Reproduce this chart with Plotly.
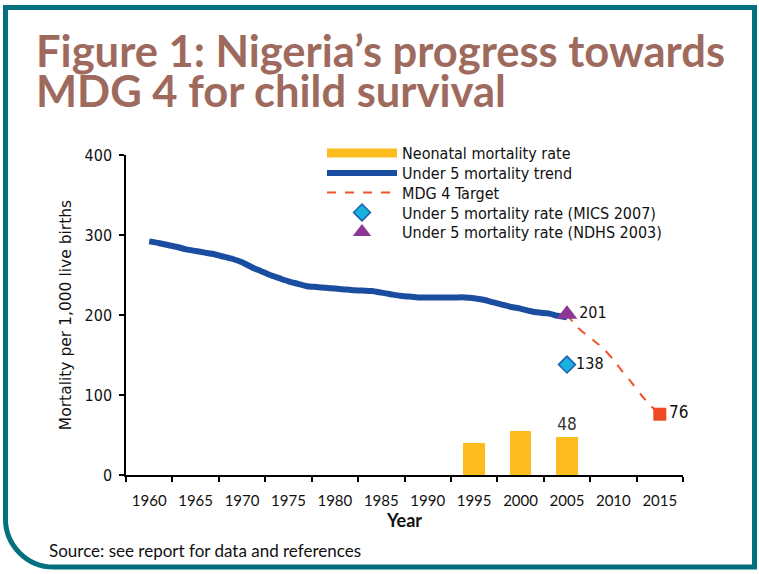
import plotly.graph_objects as go

# ---------------- data ----------------
trend_years = list(range(1960, 2006))
u5_trend = [292, 290, 287.5, 285, 282, 280, 278, 276, 273, 270,
            266, 260, 255, 250, 246, 242, 239, 236, 235, 234,
            233, 232, 231, 230.5, 230, 228, 226, 224, 223, 222,
            222, 222, 222, 222, 222, 221, 219, 216, 213, 210,
            208, 205, 203, 202, 199, 197]
target_years = list(range(2005, 2016))
mdg_target = [201, 186, 176, 167, 157, 144, 129, 115, 100, 87, 76]
neo_years = [1995, 2000, 2005]
neo_rate = [40, 55, 48]
neo_labels = ["", "", "48"]
mics_year = [2005]
mics_rate = [138]
ndhs_year = [2005]
ndhs_rate = [201]
goal_year = [2015]
goal_rate = [76]
tick_years = list(range(1960, 2020, 5))
tick_labels = [str(y) for y in tick_years]

# ---------------- layout geometry ----------------
W, H = 759, 574
L, R, T, B = 126, 76, 155, 99
PW = W - L - R
PH = H - T - B

def px(x):
    return (x - L) / PW

def py(y):
    return (H - B - y) / PH

LEG_FONT = "DejaVu Sans Condensed, DejaVu Sans, sans-serif"
VERD = "DejaVu Sans, sans-serif"
GILL = "Lato, sans-serif"
TEAL = "#03707e"

fig = go.Figure()

fig.add_trace(go.Bar(
    x=neo_years, y=neo_rate, width=2.3,
    marker=dict(color="#fcbb1f", line=dict(width=0)),
    text=neo_labels, textposition="outside", cliponaxis=False,
    textfont=dict(family=LEG_FONT, size=17, color="#333"),
    showlegend=False, name="Neonatal mortality rate"))

fig.add_trace(go.Scatter(
    x=[None], y=[None], mode="lines", name="Neonatal mortality rate",
    line=dict(color="#fcbb1f", width=9), legend="legend"))

fig.add_trace(go.Scatter(
    x=trend_years, y=u5_trend, mode="lines", name="Under 5 mortality trend",
    line=dict(color="#1a4d9f", width=6, shape="spline", smoothing=0.6),
    legend="legend2"))

fig.add_trace(go.Scatter(
    x=target_years, y=mdg_target, mode="lines", name="MDG 4 Target",
    line=dict(color="#f0532a", width=2, dash="dash", shape="spline", smoothing=0.8),
    legend="legend3"))

fig.add_trace(go.Scatter(
    x=goal_year, y=goal_rate, mode="markers+text", text=[str(v) for v in goal_rate],
    textposition="middle right", cliponaxis=False,
    textfont=dict(family=LEG_FONT, size=17, color="#111"),
    marker=dict(symbol="square", size=13, color="#f04a24"),
    showlegend=False, name="goal"))

fig.add_trace(go.Scatter(
    x=mics_year, y=mics_rate, mode="markers+text", text=[str(v) for v in mics_rate],
    textposition="middle right", cliponaxis=False,
    textfont=dict(family=LEG_FONT, size=16, color="#111"),
    marker=dict(symbol="diamond", size=13, color="#19b2df",
                line=dict(color="#1f5fae", width=1.5)),
    name="Under 5 mortality rate (MICS 2007)", legend="legend4"))

fig.add_trace(go.Scatter(
    x=ndhs_year, y=ndhs_rate, mode="markers+text", text=[str(v) for v in ndhs_rate],
    textposition="middle right", cliponaxis=False,
    textfont=dict(family=LEG_FONT, size=16, color="#111"),
    marker=dict(symbol="triangle-up", size=18, color="#8c3795"),
    name="Under 5 mortality rate (NDHS 2003)", legend="legend5"))

minor_ticks = [y - 2.5 for y in tick_years] + [tick_years[-1] + 2.5]

fig.update_xaxes(
    range=[1957.5, 2017.5], tickvals=tick_years, ticktext=tick_labels,
    ticks="outside", ticklen=5, tickcolor="rgba(0,0,0,0)",
    minor=dict(tickvals=minor_ticks, ticks="outside", ticklen=5,
               tickcolor="black", tickwidth=1.5, showgrid=False),
    showline=True, linecolor="black", linewidth=1.5, showgrid=False,
    zeroline=False, tickfont=dict(family=GILL, size=15, color="#111"),
    ticklabelstandoff=6,
    title=dict(text="<b>Year</b>", font=dict(family=GILL, size=18, color="#111"),
               standoff=7))

fig.update_yaxes(
    range=[0, 400], dtick=100, ticks="outside", ticklen=5, tickwidth=1.5,
    tickcolor="black", showline=True, linecolor="black", linewidth=1.5,
    showgrid=False, zeroline=False,
    tickfont=dict(family=LEG_FONT, size=16, color="#111"),
    ticklabelstandoff=4,
    title=dict(text="Mortality per 1,000 live births",
               font=dict(family=VERD, size=15.5, color="#111"), standoff=9))

# frame with rounded bottom-left corner
x1 = px(754.5)
y1 = py(567)
r = 48
frame = (f"M{px(5.5)},{py(7.5)} L{x1},{py(7.5)} L{x1},{y1} "
         f"L{px(5.5 + r)},{y1} C{px(5.5 + r * 0.45)},{y1} {px(5.5)},{py(567 - r * 0.45)} "
         f"{px(5.5)},{py(567 - r)} Z")
fig.add_shape(type="path", xref="paper", yref="paper", path=frame,
              line=dict(color=TEAL, width=5), fillcolor="rgba(0,0,0,0)", layer="below")

TITLE_COL = "#9e6a5e"
fig.add_annotation(text="<b>Figure 1: Nigeria’s progress towards</b>", xref="paper", yref="paper",
                   x=px(34), y=py(50), xanchor="left", yanchor="middle", showarrow=False,
                   font=dict(family=GILL, size=43.5, color=TITLE_COL))
fig.add_annotation(text="<b>MDG 4 for child survival</b>", xref="paper", yref="paper",
                   x=px(34), y=py(90), xanchor="left", yanchor="middle", showarrow=False,
                   font=dict(family=GILL, size=43.5, color=TITLE_COL))
fig.add_annotation(text="Source: see report for data and references", xref="paper", yref="paper",
                   x=px(47), y=py(550), xanchor="left", yanchor="middle", showarrow=False,
                   font=dict(family=GILL, size=17, color="#111"))

row_centres = [153, 173, 192.5, 212.5, 232]
legend_names = ["legend", "legend2", "legend3", "legend4", "legend5"]
legend_cfg = {}
for name, yc in zip(legend_names, row_centres):
    legend_cfg[name] = dict(x=px(322), y=py(yc), xanchor="left", yanchor="middle",
                            bgcolor="rgba(0,0,0,0)", itemwidth=70,
                            font=dict(family=LEG_FONT, size=16, color="#111"))

fig.update_layout(
    width=W, height=H, margin=dict(l=L, r=R, t=T, b=B),
    paper_bgcolor="white", plot_bgcolor="white",
    bargap=0, showlegend=True,
    **legend_cfg,
)

fig.write_html("out.html", config={"displayModeBar": False},
               post_script="document.body.style.margin='0';")
